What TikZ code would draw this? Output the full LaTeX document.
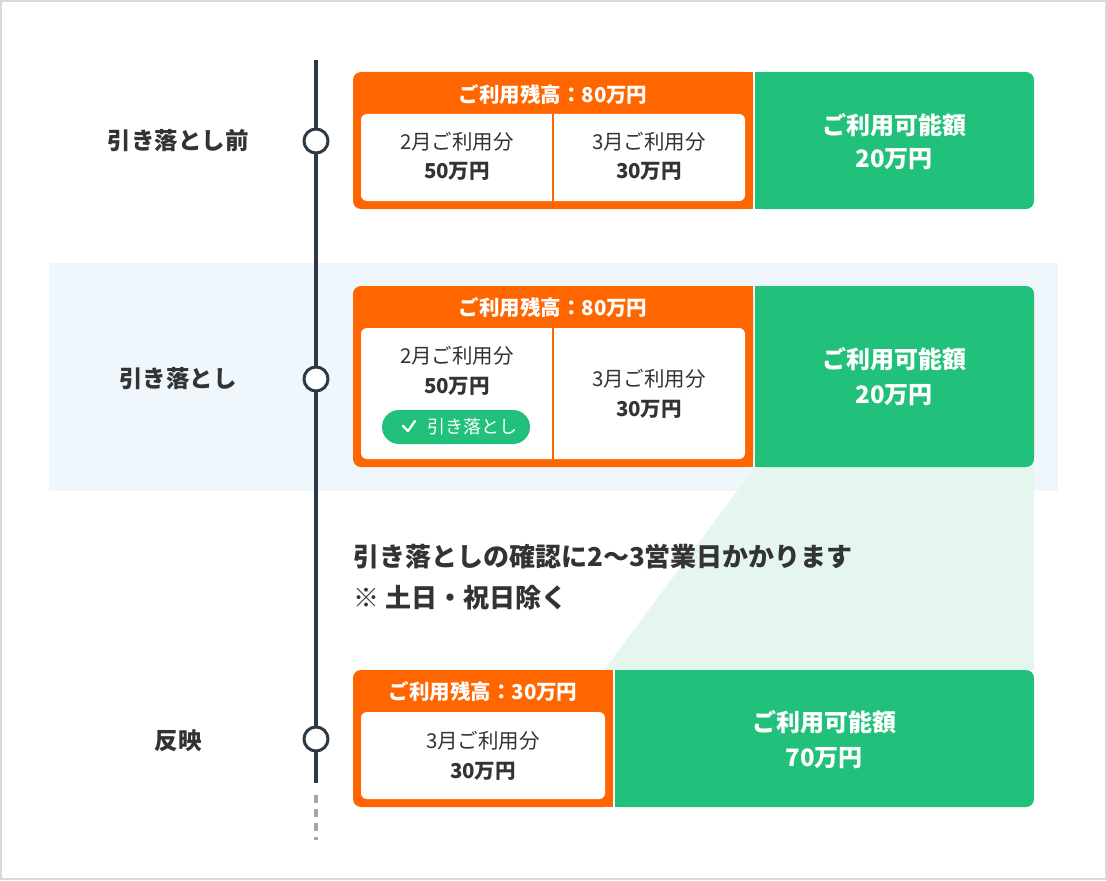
\documentclass[tikz,border=0pt]{standalone}
\usepackage{fontspec}
\setmainfont{Noto Sans CJK JP}
\definecolor{org}{HTML}{FF6600}
\definecolor{grn}{HTML}{22C17B}
\definecolor{dark}{HTML}{2D3A45}
\definecolor{band}{HTML}{EFF6FC}
\definecolor{lgrn}{HTML}{E4F6EE}
\definecolor{txt}{HTML}{333333}
\begin{document}
\begin{tikzpicture}[x=1pt,y=-1pt,
  lbl/.style={font=\fontsize{23.5}{26}\selectfont\bfseries,text=txt},
  hdr/.style={font=\fontsize{20.5}{24}\selectfont\bfseries,text=white},
  sm/.style={font=\fontsize{20.5}{24}\selectfont,text=txt},
  smb/.style={font=\fontsize{20.5}{24}\selectfont\bfseries,text=txt},
  gt/.style={font=\fontsize{24}{28}\selectfont\bfseries,text=white},
  nt/.style={font=\fontsize{26}{30}\selectfont\bfseries,text=txt,anchor=west,inner sep=0pt},
  dot/.style={circle,draw=dark,line width=3pt,fill=white,minimum size=24pt,inner sep=0pt}]
\useasboundingbox (0,0) rectangle (1107,880);
\draw[draw=black!15,line width=1.5pt] (1,1) rectangle (1106,879);
\fill[band] (49,263) rectangle (1058,491);
\fill[lgrn] (755,467) -- (1034,467) -- (1034,670) -- (604,670) -- cycle;
% timeline
\coordinate (t0) at (316,60); \coordinate (t1) at (316,783);
\draw[dark,line width=4pt] (t0) -- (t1);
\coordinate (d0) at (316,795); \coordinate (d1) at (316,840);
\draw[black!35,line width=4pt,dash pattern=on 8pt off 6pt] (d0) -- (d1);
\node[dot] (c1) at (316,141) {};
\node[dot] (c2) at (316,379) {};
\node[dot] (c3) at (316,739) {};
\node[lbl] (l1) at (178,141) {引き落とし前};
\node[lbl] (l2) at (178,379) {引き落とし};
\node[lbl] (l3) at (178,741) {反映};
% box 1
\fill[org,rounded corners=8pt] (353,72) rectangle (753,209);
\fill[org] (740,72) rectangle (753,209);
\fill[grn,rounded corners=8pt] (755,72) rectangle (1034,209);
\fill[grn] (755,72) rectangle (770,209);
\fill[white,rounded corners=6pt] (361,114) rectangle (745,201);
\draw[org,line width=1.5pt] (553,114) -- (553,201);
\node[hdr] (h1) at (553,95) {ご利用残高：80万円};
\node[sm] (a1) at (457,142) {2月ご利用分};
\node[smb] (b1) at (457,171) {50万円};
\node[sm] (a2) at (649,142) {3月ご利用分};
\node[smb] (b2) at (649,171) {30万円};
\node[gt] (g1) at (894,125) {ご利用可能額};
\node[gt] (g2) at (894,159) {20万円};
% box 2
\fill[org,rounded corners=8pt] (353,286) rectangle (753,467);
\fill[org] (740,286) rectangle (753,467);
\fill[grn,rounded corners=8pt] (755,286) rectangle (1034,467);
\fill[grn] (755,286) rectangle (770,467);
\fill[white,rounded corners=6pt] (361,328) rectangle (745,459);
\draw[org,line width=1.5pt] (553,328) -- (553,459);
\node[hdr] (h2) at (553,308) {ご利用残高：80万円};
\node[sm] (a3) at (457,356) {2月ご利用分};
\node[smb] (b3) at (457,386) {50万円};
\node[fill=grn,rounded corners=17pt,minimum width=148pt,minimum height=34pt,inner sep=0pt] (p) at (456,427) {};
\node[text=white,font=\fontsize{18}{21}\selectfont,anchor=west,inner sep=0pt] (pt) at (427,427) {引き落とし};
\coordinate (k1) at (403,426); \coordinate (k2) at (408,431); \coordinate (k3) at (415,421);
\draw[white,line width=2.2pt,line cap=round,line join=round] (k1) -- (k2) -- (k3);
\node[sm] (a4) at (649,379) {3月ご利用分};
\node[smb] (b4) at (649,409) {30万円};
\node[gt] (g3) at (894,359) {ご利用可能額};
\node[gt] (g4) at (894,395) {20万円};
% note
\node[nt] (n1) at (353,557) {引き落としの確認に2〜3営業日かかります};
\node[nt] (n2) at (353,598) {※ 土日・祝日除く};
% box 3
\fill[org,rounded corners=8pt] (353,670) rectangle (613,807);
\fill[org] (600,670) rectangle (613,807);
\fill[grn,rounded corners=8pt] (615,670) rectangle (1034,807);
\fill[grn] (615,670) rectangle (630,807);
\fill[white,rounded corners=6pt] (361,712) rectangle (605,799);
\node[hdr] (h3) at (483,692) {ご利用残高：30万円};
\node[sm] (a5) at (483,741) {3月ご利用分};
\node[smb] (b5) at (483,771) {30万円};
\node[gt] (g5) at (824,722) {ご利用可能額};
\node[gt] (g6) at (824,758) {70万円};
\end{tikzpicture}
\end{document}
